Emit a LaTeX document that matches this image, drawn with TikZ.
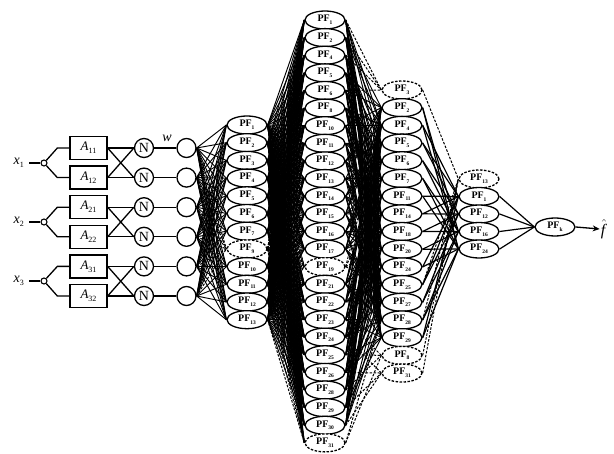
\documentclass[tikz,border=0pt]{standalone}
\usepackage{fontspec}
\setmainfont{Liberation Serif}
\usetikzlibrary{shapes.geometric,arrows.meta}
\pgfdeclarelayer{bg}
\pgfsetlayers{bg,main}
\newcommand\pflab[1]{PF\raisebox{-0.6ex}{\fontsize{5.5}{5.5}\selectfont #1}}
\newcommand\inlab[2]{\textit{#1}\raisebox{-0.5ex}{\fontsize{8}{8}\selectfont #2}}
\begin{document}
\begin{tikzpicture}[x=1pt,y=-1pt,
  pf/.style={ellipse, draw, line width=1.3pt, fill=white, minimum width=40pt, minimum height=18pt, inner sep=0pt, font=\fontsize{10}{10}\selectfont\bfseries},
  pfd/.style={pf, dash pattern=on 2.5pt off 1.5pt},
  conn/.style={line width=0.95pt},
  connd/.style={line width=1pt, dash pattern=on 2.5pt off 1.5pt},
  connb/.style={line width=1.2pt},
  abox/.style={draw, line width=1.3pt, minimum width=37pt, minimum height=23pt, inner sep=0pt, font=\fontsize{13}{13}\selectfont},
  ncirc/.style={circle, draw, line width=1.3pt, minimum size=19pt, inner sep=0pt, font=\fontsize{14}{14}\selectfont},
  wcirc/.style={circle, draw, line width=1.3pt, minimum size=19pt, inner sep=0pt},
  scirc/.style={circle, draw, line width=1.1pt, minimum size=6pt, inner sep=0pt, fill=white},
  wire/.style={line width=1.3pt}]
\useasboundingbox (0,0) rectangle (614,454);

% ---------- input part ----------
\foreach \g/\yc in {1/163, 2/222, 3/281}{
  \node[anchor=east, inner sep=0pt, font=\fontsize{14}{14}\selectfont] (x\g) at (24,\yc) {\inlab{x}{\g}};
  \coordinate (xin\g) at (29,\yc);
  \node[scirc] (s\g) at (44,\yc) {};
}
\foreach \k/\lab in {1/11,2/12,3/21,4/22,5/31,6/32}{
  \node[abox] (A\k) at (88.5,{148+29.6*(\k-1)}) {\inlab{A}{\lab}};
  \node[ncirc] (N\k) at (144,{148+29.6*(\k-1)}) {N};
  \node[wcirc] (w\k) at (186.5,{148+29.6*(\k-1)}) {};
}
\node[font=\fontsize{14}{14}\selectfont\itshape] (wl) at (167,138) {w};

\foreach \g/\a/\b in {1/1/2, 2/3/4, 3/5/6}{
  \draw[wire] (xin\g) -- (s\g.west);
  \draw[wire] (s\g) -- ([xshift=-12pt]A\a.west) -- (A\a.west);
  \draw[wire] (s\g) -- ([xshift=-12pt]A\b.west) -- (A\b.west);
  \draw[wire] (A\a.east) -- (N\a.west);
  \draw[wire] (A\a.east) -- (N\b.west);
  \draw[wire] (A\b.east) -- (N\a.west);
  \draw[wire] (A\b.east) -- (N\b.west);
}
\foreach \k in {1,...,6}{ \draw[wire] (N\k) -- (w\k); }

% ---------- layer 1 ----------
\foreach \lab/\d [count=\i] in {1/0,2/0,3/0,4/0,5/0,6/0,7/0,9/1,10/0,11/0,12/0,13/0}{
  \ifnum\d=1 \tikzset{cur/.style={pfd}}\else\tikzset{cur/.style={pf}}\fi
  \node[cur] (a\i) at (247,{125+17.7*(\i-1)}) {\pflab{\lab}};
}
% ---------- layer 2 ----------
\foreach \lab/\d [count=\i] in {1/0,2/0,4/0,5/0,6/0,8/0,10/0,11/0,12/0,13/0,14/0,15/0,16/0,17/0,19/1,21/0,22/0,23/0,24/0,25/0,26/0,28/0,29/0,30/0,31/1}{
  \ifnum\d=1 \tikzset{cur/.style={pfd}}\else\tikzset{cur/.style={pf}}\fi
  \node[cur] (b\i) at (325,{20+17.62*(\i-1)}) {\pflab{\lab}};
}
% ---------- layer 3 ----------
\foreach \lab/\d [count=\i] in {3/1,2/0,4/0,5/0,6/0,7/0,11/0,14/0,18/0,20/0,24/0,25/0,27/0,28/0,29/0,8/1,31/1}{
  \ifnum\d=1 \tikzset{cur/.style={pfd}}\else\tikzset{cur/.style={pf}}\fi
  \node[cur] (c\i) at (402,{90+17.69*(\i-1)}) {\pflab{\lab}};
}
% ---------- layer 4 ----------
\foreach \lab/\d [count=\i] in {13/1,1/0,12/0,16/0,24/0}{
  \ifnum\d=1 \tikzset{cur/.style={pfd}}\else\tikzset{cur/.style={pf}}\fi
  \node[cur] (d\i) at (479,{179+17.5*(\i-1)}) {\pflab{\lab}};
}
% ---------- output ----------
\node[pf] (out) at (555,227) {\pflab{k}};
\node[inner sep=1pt, font=\fontsize{16}{16}\selectfont] (fh) at (604,229) {$\hat{\mbox{\textit{f}}}$};
\draw[wire, -{Stealth[length=7pt,width=6pt]}] (out.east) -- (fh.west);

% ---------- connections ----------
\begin{pgfonlayer}{bg}
\foreach \i in {1,...,6}{
  \foreach \j in {1,2,3,4,5,6,7,9,10,11,12}{\draw[conn] (w\i.east) -- (a\j.west);}
  \draw[connd] (w\i.east) -- (a8.west);
}
\foreach \j in {1,...,25}{\draw[connd] (a8.east) -- (b\j.west);}
\foreach \i in {1,2,3,4,5,6,7,9,10,11,12}{
  \draw[connd] (a\i.east) -- (b15.west);
  \draw[connd] (a\i.east) -- (b25.west);
}
\foreach \i in {1,2,3,4,5,6,7,9,10,11,12}{
  \foreach \j in {1,2,3,4,5,6,7,8,9,10,11,12,13,14,16,17,18,19,20,21,22,23,24}{
    \draw[conn] (a\i.east) -- (b\j.west);}
}

\foreach \i/\j in {1/1,2/1,3/1,5/1,15/3,15/7,15/10,15/12,25/14,25/16,18/16,20/16,22/16,19/17,21/17,23/17,24/17}{
  \draw[connd] (b\i.east) -- (c\j.west);
}
\foreach \i in {1,2,3,4,5,6,7,8,9,10,11,12,13,14,16,17,18,19,20,21,22,23,24}{
  \foreach \j in {2,...,15}{
    \pgfmathtruncatemacro\m{mod(\i*7+\j*11,5)}
    \ifnum\m<3 \draw[conn] (b\i.east) -- (c\j.west);\fi
  }
}
\foreach \j in {1,12,14,16,17}{\draw[connd] (c\j.east) -- (d1.west);}
\foreach \j in {2,...,15}{
  \pgfmathtruncatemacro\ka{2+mod(\j,4)}
  \pgfmathtruncatemacro\kb{2+mod(\j+1,4)}
  \draw[connb] (c\j.east) -- (d\ka.west);
  \draw[connb] (c\j.east) -- (d\kb.west);
}
\foreach \k in {2,...,5}{\draw[connb] (d\k.east) -- (out.west);}
\end{pgfonlayer}
\end{tikzpicture}
\end{document}
